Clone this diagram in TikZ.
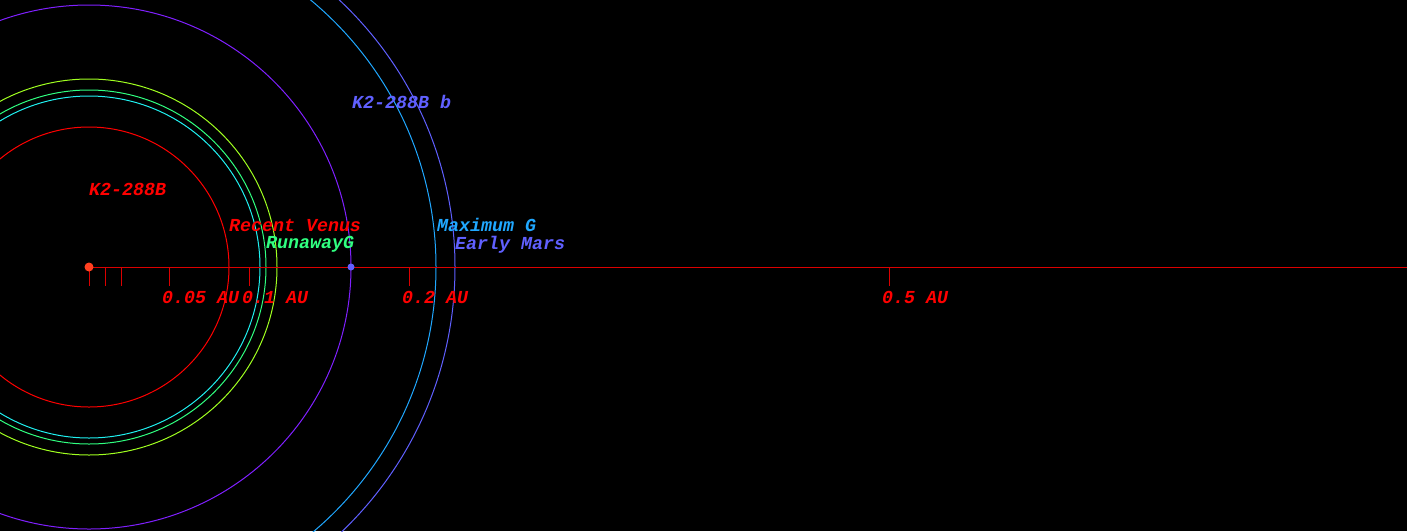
\documentclass[tikz,border=0pt]{standalone}
\usepackage{fontspec}
\setmonofont{Liberation Mono}

\definecolor{starred}{RGB}{255,64,32}
\definecolor{axisred}{RGB}{220,0,0}
\definecolor{venusred}{RGB}{255,0,0}
\definecolor{runcyan}{RGB}{32,240,240}
\definecolor{rungreen}{RGB}{48,255,128}
\definecolor{limegreen}{RGB}{160,255,32}
\definecolor{planetviolet}{RGB}{128,32,255}
\definecolor{maxblue}{RGB}{32,168,255}
\definecolor{marsblue}{RGB}{96,96,255}

\tikzset{
  orbit/.style={line width=1pt},
  lbl/.style={anchor=base west, inner sep=0pt, font=\ttfamily\bfseries\itshape\fontsize{18.3}{20}\selectfont},
  tick/.style={axisred, line width=1pt}
}

\begin{document}
\begin{tikzpicture}[x=1pt,y=-1pt]
	\fill[black] (0,0) rectangle (1407,531);
	\useasboundingbox (0,0) rectangle (1407,531);
	\clip (0,0) rectangle (1407,531);

	\coordinate (star) at (89,267);
	\coordinate (axisend) at (1407,267);

	% habitable zone orbits
	\draw[orbit, venusred] (star) circle (140);
	\draw[orbit, runcyan] (star) circle (171);
	\draw[orbit, rungreen] (star) circle (177);
	\draw[orbit, limegreen] (star) circle (188);
	\draw[orbit, planetviolet] (star) circle (262);
	\draw[orbit, maxblue] (star) circle (347);
	\draw[orbit, marsblue] (star) circle (366);

	% distance axis
	\draw[tick] (star) -- (axisend);
	\draw[tick] (89,267) -- (89,286);
	\draw[tick] (105,267) -- (105,286);
	\draw[tick] (121,267) -- (121,286);
	\draw[tick] (169,267) -- (169,286);
	\draw[tick] (249,267) -- (249,286);
	\draw[tick] (409,267) -- (409,286);
	\draw[tick] (889,267) -- (889,286);

	\node[lbl, venusred] (au005) at (162,303) {0.05 AU};
	\node[lbl, venusred] (au01) at (242,303) {0.1 AU};
	\node[lbl, venusred] (au02) at (402,303) {0.2 AU};
	\node[lbl, venusred] (au05) at (882,303) {0.5 AU};

	% star and planet
	\fill[starred] (star) circle (4.5);
	\fill[marsblue] (351,267) circle (3.5);

	\node[lbl, venusred] (starname) at (89,195) {K2-288B};
	\node[lbl, marsblue] (planetname) at (352,108) {K2-288B b};
	\node[lbl, venusred] (recentvenus) at (229,231) {Recent Venus};
	\node[lbl, rungreen] (runaway) at (266,248) {RunawayG};
	\node[lbl, maxblue] (maxg) at (437,231) {Maximum G};
	\node[lbl, marsblue] (earlymars) at (455,249) {Early Mars};
\end{tikzpicture}
\end{document}
